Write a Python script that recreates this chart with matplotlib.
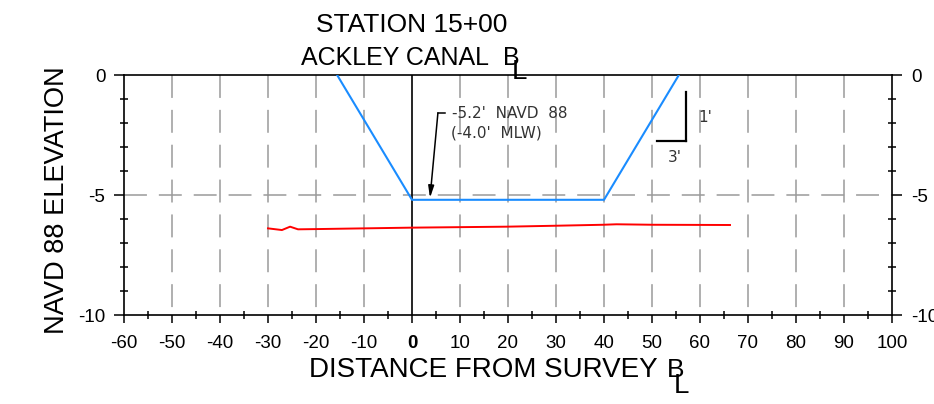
import matplotlib
matplotlib.use('Agg')
import matplotlib.pyplot as plt
from matplotlib.ticker import MultipleLocator

plt.rcParams['font.family'] = ['Liberation Sans', 'DejaVu Sans']
plt.rcParams['lines.scale_dashes'] = False

# ---- data ----
ground_x = [-30.0, -27.1, -25.4, -23.75, -19.9, 0.0, 19.7, 30.1, 39.8, 42.6, 50.2, 66.25]
ground_y = [-6.39, -6.46, -6.32, -6.43, -6.42, -6.36, -6.32, -6.28, -6.24, -6.22, -6.24, -6.25]
channel_x = [-15.6, 0.0, 40.0, 55.6]
channel_y = [0.0, -5.2, -5.2, 0.0]
x_ticks = list(range(-60, 101, 10))
x_tick_labels = [str(t) for t in x_ticks]
y_ticks = [0, -5, -10]
y_tick_labels = ['0', '-5', '-10']
grid_x = [v for v in range(-50, 100, 10) if v != 0]
grid_y = [-5]
depth_label = ["-5.2'  NAVD  88", "(-4.0'  MLW)"]
annot_tip = (3.75, -5.12)
annot_corner = (5.4, -1.58)
annot_start = (6.9, -1.58)
slope_vert = ([57.1, 57.1], [-0.7, -2.74])
slope_horz = ([51.0, 57.1], [-2.74, -2.74])

W, H = 934, 404
fig = plt.figure(figsize=(W / 100, H / 100), dpi=100)
ax = fig.add_axes([124 / W, 1 - 315 / H, (892 - 124) / W, (315 - 75) / H])
ax.set_xlim(-60, 100)
ax.set_ylim(-10, 0)

dash = (0, (16.5, 8.6))
grey = '#9a9a9a'
for gx in grid_x:
    ax.plot([gx, gx], [0, -10], color=grey, lw=1.1, linestyle=dash, zorder=1)
for gy in grid_y:
    ax.plot([-60, 100], [gy, gy], color=grey, lw=1.1, linestyle=dash, zorder=1)

ax.plot([0, 0], [0, -10], color='black', lw=1.2, zorder=2)
ax.plot(channel_x, channel_y, color='#1a8cff', lw=1.5, zorder=3)
ax.plot(ground_x, ground_y, color='#ff0000', lw=1.4, zorder=3)

# annotation
ax.plot([annot_start[0], annot_corner[0]], [annot_start[1], annot_corner[1]], color='black', lw=1.1, zorder=4)
ax.annotate('', xy=annot_tip, xytext=annot_corner,
            arrowprops=dict(arrowstyle='-|>,head_length=0.7,head_width=0.17', color='black', lw=1.1,
                            shrinkA=0, shrinkB=0), zorder=4)
ax.text(8.26, -1.79, depth_label[0], fontsize=11, family='DejaVu Sans', color='#333333', va='baseline', ha='left')
ax.text(8.1, -2.6, depth_label[1], fontsize=11, family='DejaVu Sans', color='#333333', va='baseline', ha='left')

ax.plot(*slope_vert, color='black', lw=1.6)
ax.plot(*slope_horz, color='black', lw=1.6)
ax.text(61.0, -1.79, "1'", fontsize=11, family='DejaVu Sans', color='#333333', ha='center', va='center')
ax.text(54.8, -3.42, "3'", fontsize=11, family='DejaVu Sans', color='#333333', ha='center', va='center')

# axes styling
for s in ax.spines.values():
    s.set_linewidth(1.2)
    s.set_color('black')
ax.set_xticks(x_ticks, labels=x_tick_labels)
ax.set_yticks(y_ticks, labels=y_tick_labels)
ax.xaxis.set_minor_locator(MultipleLocator(5))
ax.yaxis.set_minor_locator(MultipleLocator(1))
ax.get_xticklabels()[x_ticks.index(0)].set_fontweight('bold')
ax.tick_params(axis='x', which='major', direction='out', length=6, width=1.1, labelsize=13.5, pad=8.5)
ax.tick_params(axis='x', which='minor', direction='inout', length=6, width=1.1)
ax.tick_params(axis='y', which='major', direction='out', length=7, width=1.1, labelsize=13.5, pad=6.5,
               left=True, right=True, labelleft=True, labelright=True)
ax.tick_params(axis='y', which='minor', direction='inout', length=6, width=1.1, left=True, right=True)


def ftext(x, y, s, **kw):
    fig.text(x / W, 1 - y / H, s, **kw)


# title
ftext(412, 31.7, 'STATION 15+00', fontsize=19, ha='center', va='baseline')
ftext(489, 65, 'ACKLEY CANAL', fontsize=18, ha='right', va='baseline')
ftext(503, 65, 'B', fontsize=18, ha='left', va='baseline')
ftext(512, 79, 'L', fontsize=20, ha='left', va='baseline')

# x label
ftext(658, 377, 'DISTANCE FROM SURVEY', fontsize=20, ha='right', va='baseline')
ftext(667, 377, 'B', fontsize=19, ha='left', va='baseline')
ftext(674, 393, 'L', fontsize=20, ha='left', va='baseline')

# y label
ftext(57, 200, 'NAVD 88 ELEVATION', fontsize=19.6, rotation=90, ha='center', va='center')

fig.savefig('out.png', dpi=100)
